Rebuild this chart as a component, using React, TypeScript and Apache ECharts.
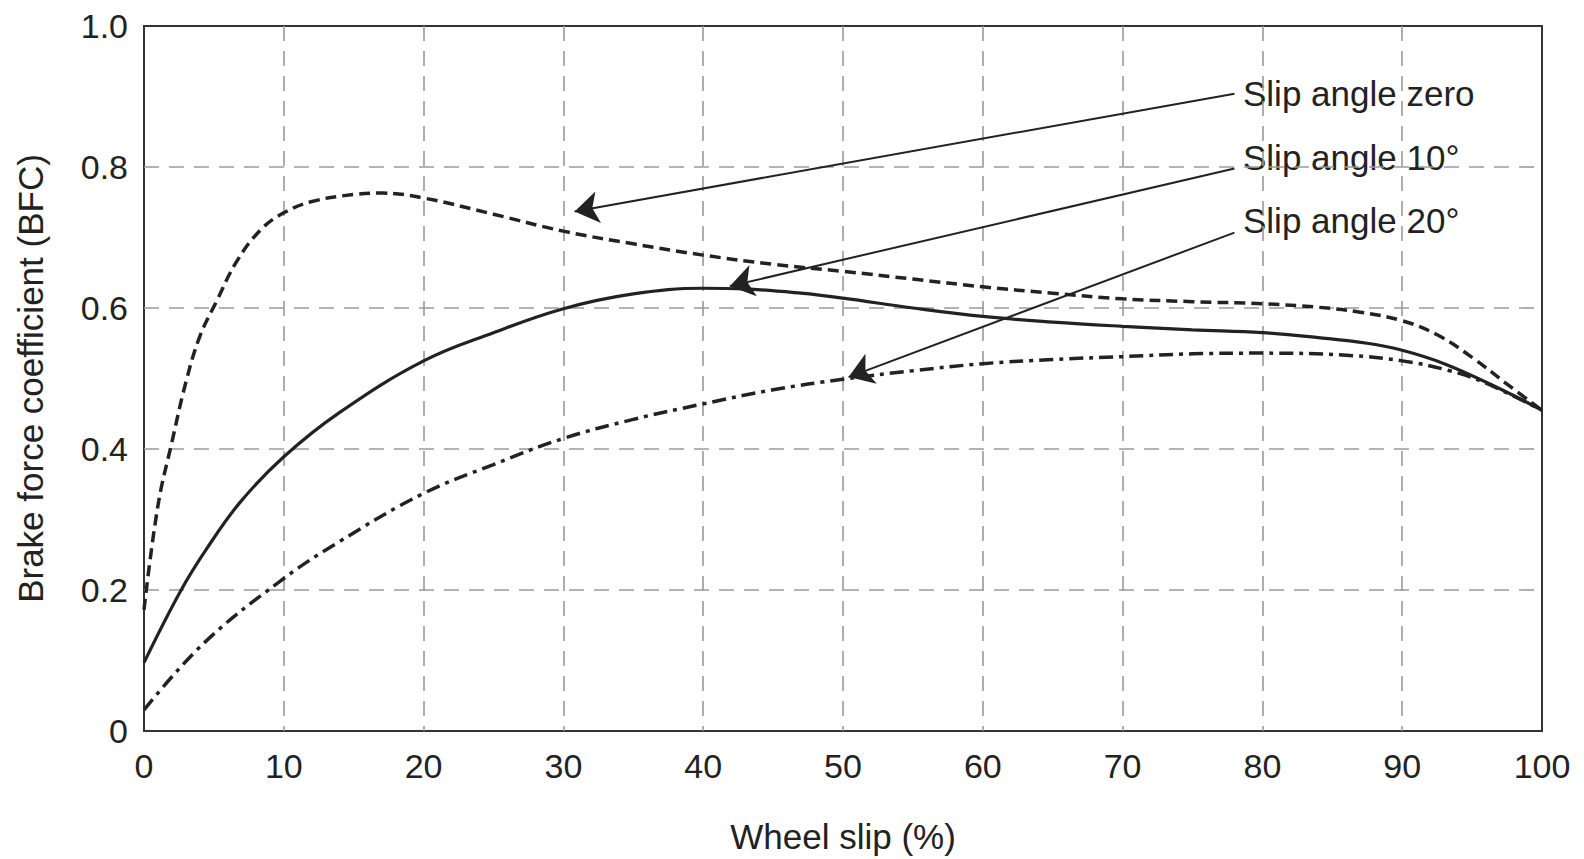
import React, { useEffect, useRef } from "react";
import * as echarts from "echarts";

// Wheel slip (%) vs brake force coefficient
const slipAngleZero: [number, number][] = [
  [0, 0.172], [1, 0.32], [2, 0.41], [3, 0.495], [4, 0.56],
  [5.2, 0.61], [6.6, 0.665], [8.3, 0.71], [10, 0.735], [12, 0.751], [15, 0.761],
  [17, 0.763], [20, 0.756], [25, 0.733], [30, 0.709], [35, 0.691], [40, 0.675],
  [45, 0.662], [50, 0.652], [55, 0.641], [60, 0.63], [65, 0.621], [70, 0.613],
  [75, 0.609], [80, 0.606], [84, 0.601], [87, 0.594], [90, 0.582], [92.5, 0.562],
  [95, 0.53], [97.5, 0.492], [100, 0.455],
];
const slipAngle10: [number, number][] = [
  [0, 0.097], [2.6, 0.198], [4.5, 0.259], [6.9, 0.325], [10, 0.389],
  [14, 0.452], [20, 0.525], [25, 0.565], [30, 0.599], [35, 0.62], [40, 0.628],
  [43, 0.627], [47, 0.621], [50, 0.614], [55, 0.6], [60, 0.588], [65, 0.58],
  [70, 0.574], [75, 0.569], [80, 0.565], [84, 0.558], [87.5, 0.55], [90, 0.54],
  [93, 0.521], [96.5, 0.49], [100, 0.455],
];
const slipAngle20: [number, number][] = [
  [0, 0.03], [4.2, 0.123], [9.7, 0.212], [14, 0.269], [20, 0.337], [25, 0.378],
  [30, 0.415], [35, 0.442], [40, 0.464], [45, 0.484], [50, 0.499], [55, 0.511],
  [60, 0.521], [65, 0.527], [70, 0.531], [75, 0.535], [80, 0.536], [86, 0.533],
  [90, 0.525], [93.4, 0.511], [95.8, 0.495], [100, 0.455],
];

const annotationLabels = ["Slip angle zero", "Slip angle 10°", "Slip angle 20°"];
const arrowStarts: [number, number][] = [[78.0, 0.904], [78.0, 0.798], [78.0, 0.707]];
const arrowEnds: [number, number][] = [[30.8, 0.737], [41.9, 0.631], [50.4, 0.502]];

const xTicks = [0, 10, 20, 30, 40, 50, 60, 70, 80, 90, 100];
const yTicks = [0, 0.2, 0.4, 0.6, 0.8, 1.0];

const FONT = "'Liberation Sans', Arial, sans-serif";
const INK = "#222";

export default function App() {
  const ref = useRef<HTMLDivElement>(null);

  useEffect(() => {
    document.body.style.margin = "0";
    if (!ref.current) return;
    const chart = echarts.init(ref.current, null, { renderer: "svg" });

    const lineBase = {
      type: "line", smooth: 0.4, showSymbol: false, symbol: "none", silent: true,
    };

    const option: any = {
      animation: false,
      backgroundColor: "#fff",
      grid: {
        left: 144, right: 42, top: 26, bottom: 125,
        show: true, borderColor: "#333", borderWidth: 2, backgroundColor: "transparent",
      },
      xAxis: {
        type: "value", min: xTicks[0], max: xTicks[xTicks.length - 1], interval: 10,
        name: "Wheel slip (%)", nameLocation: "middle", nameGap: 88,
        nameTextStyle: { fontFamily: FONT, fontSize: 35, color: INK },
        axisLine: { show: false }, axisTick: { show: false },
        axisLabel: { fontFamily: FONT, fontSize: 34, color: INK, margin: 18 },
        splitLine: {
          show: true, showMinLine: false, showMaxLine: false,
          lineStyle: { color: "#9a9a9a", width: 1.6, type: [15, 10] },
        },
      },
      yAxis: {
        type: "value", min: yTicks[0], max: yTicks[yTicks.length - 1], interval: 0.2,
        name: "Brake force coefficient (BFC)", nameLocation: "middle", nameGap: 96,
        nameTextStyle: { fontFamily: FONT, fontSize: 35, color: INK },
        axisLine: { show: false }, axisTick: { show: false },
        axisLabel: {
          fontFamily: FONT, fontSize: 34, color: INK, margin: 16,
          formatter: (v: number) => (v === 0 ? "0" : v.toFixed(1)),
        },
        splitLine: {
          show: true, showMinLine: false, showMaxLine: false,
          lineStyle: { color: "#9a9a9a", width: 1.6, type: [15, 10] },
        },
      },
      series: [
        {
          ...lineBase, name: annotationLabels[0], data: slipAngleZero,
          lineStyle: { color: INK, width: 3.5, type: [11, 6] },
        },
        {
          ...lineBase, name: annotationLabels[1], data: slipAngle10,
          lineStyle: { color: INK, width: 3.2, type: "solid" },
        },
        {
          ...lineBase, name: annotationLabels[2], data: slipAngle20,
          lineStyle: { color: INK, width: 3.5, type: [14, 6, 4, 6] },
        },
        {
          type: "line", data: [], silent: true,
          markLine: {
            silent: true, animation: false,
            symbol: ["none", "arrow"], symbolSize: 24,
            label: { show: false },
            lineStyle: { color: INK, width: 2, type: "solid" },
            itemStyle: { color: INK },
            emphasis: { disabled: true },
            data: arrowStarts.map((s, i) => [{ coord: s }, { coord: arrowEnds[i] }]),
          },
        },
      ],
      graphic: annotationLabels.map((t, i) => ({
        type: "text",
        x: 1243,
        y: [93, 157, 220][i],
        silent: true,
        style: {
          text: t, fontFamily: FONT, fontSize: 35, fill: INK,
          align: "left", verticalAlign: "middle",
        },
      })),
    };

    chart.setOption(option);
    return () => chart.dispose();
  }, []);

  return (
    <div
      ref={ref}
      style={{ position: "absolute", left: 0, top: 0, width: 1584, height: 859, background: "#fff" }}
    />
  );
}
